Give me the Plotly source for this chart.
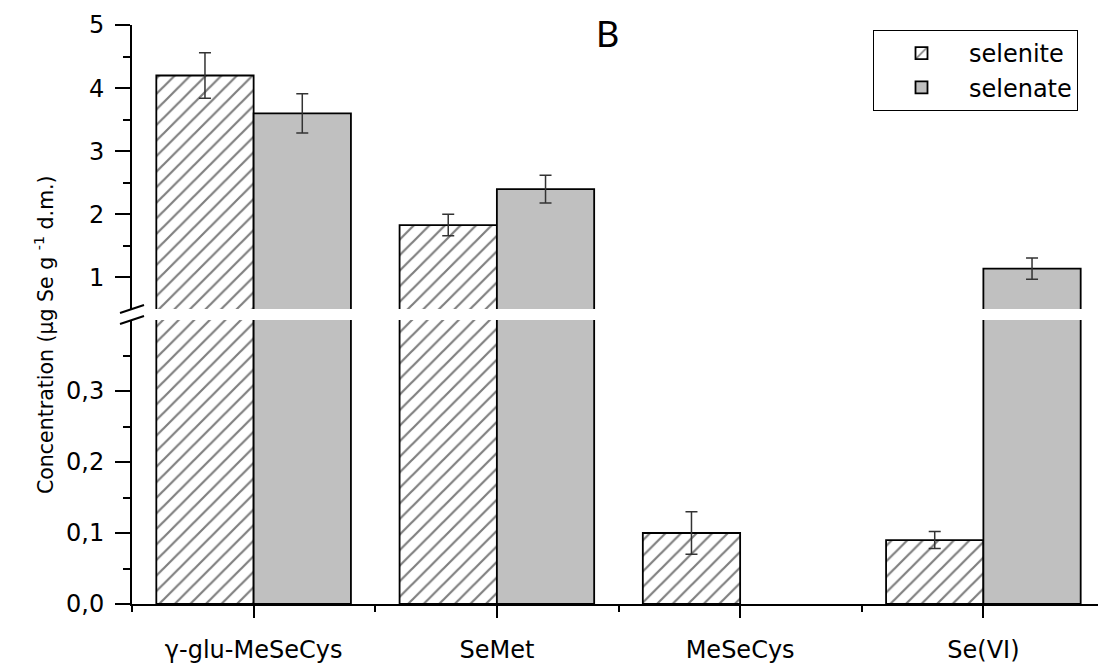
import plotly.graph_objects as go

# ---- data ----
categories = ["γ-glu-MeSeCys", "SeMet", "MeSeCys", "Se(VI)"]
series_names = ["selenite", "selenate"]
selenite = [4.20, 1.83, 0.100, 0.090]
selenite_err = [0.36, 0.17, 0.030, 0.012]
selenate = [3.60, 2.40, None, 1.14]
selenate_err = [0.31, 0.22, None, 0.17]

x_pos = list(range(len(categories)))

# ---- layout geometry (page pixels; the html body has an 8px margin) ----
OFF = 8
W, H = 1106 - OFF, 665 - OFF
PX0, PX1, PY0, PY1 = 132, 1105, 25, 604      # plot area in page pixels
ML, MR = PX0 - OFF, W - (PX1 - OFF)
MT, MB = PY0 - OFF, H - (PY1 - OFF)
PW, PH = PX1 - PX0, PY1 - PY0
GAP = 11
half = (PH - GAP) / 2
low_dom = [0, half / PH]
up_dom = [(half + GAP) / PH, 1]

def pxx(px):
    return (px - PX0) / PW

def pxy(py):
    return (PY1 - py) / PH

FONT = "DejaVu Sans"

hatch = dict(color="white", line=dict(color="black", width=1.8),
             pattern=dict(shape="/", fgcolor="black", bgcolor="white", size=11, solidity=0.2))
grey = dict(color="#c0c0c0", line=dict(color="black", width=1.8))
err_style = dict(type="data", color="#333333", thickness=1.5, width=6)

fig = go.Figure()
for yax, show in (("y2", True), ("y", False)):
    xax = "x2" if yax == "y2" else "x"
    fig.add_trace(go.Bar(x=x_pos, y=selenite, name=series_names[0], marker=hatch,
                         error_y=dict(array=selenite_err, **err_style),
                         xaxis=xax, yaxis=yax, offsetgroup="a", legendgroup="a", showlegend=show))
    fig.add_trace(go.Bar(x=x_pos, y=selenate, name=series_names[1], marker=grey,
                         error_y=dict(array=selenate_err, **err_style),
                         xaxis=xax, yaxis=yax, offsetgroup="b", legendgroup="b", showlegend=show))

axis_common = dict(showgrid=False, zeroline=False, showline=True, linecolor="black", linewidth=2,
                   ticks="outside", tickcolor="black", tickwidth=2,
                   tickfont=dict(family=FONT, size=24, color="black"))

fig.update_layout(
    width=W, height=H,
    margin=dict(l=ML, r=MR, t=MT, b=MB, autoexpand=False),
    paper_bgcolor="white", plot_bgcolor="white",
    separators=",.",
    barmode="group", bargap=0.2, bargroupgap=0,
    font=dict(family=FONT, color="black"),
    xaxis=dict(**axis_common,
               range=[-0.5, 3.5], anchor="y", domain=[0, 1],
               tickmode="array", tickvals=x_pos, ticktext=categories, ticklen=12,
               ticklabelstandoff=11,
               minor=dict(tickmode="array", tickvals=[-0.5, 0.5, 1.5, 2.5, 3.5],
                          ticks="outside", ticklen=6, tickwidth=2, tickcolor="black")),
    xaxis2=dict(matches="x", anchor="y2", visible=False, range=[-0.5, 3.5], domain=[0, 1]),
    yaxis=dict(**axis_common, domain=low_dom, range=[0, 0.4], anchor="x",
               tickmode="array", tickvals=[0, 0.1, 0.2, 0.3], tickformat=".1f", ticklen=15,
               ticklabelstandoff=6,
               minor=dict(tickmode="array", tickvals=[0.05, 0.15, 0.25, 0.35],
                          ticks="outside", ticklen=7, tickwidth=2, tickcolor="black")),
    yaxis2=dict(**axis_common, domain=up_dom, range=[0.5, 5], anchor="x2",
                tickmode="array", tickvals=[1, 2, 3, 4, 5], ticklen=15,
                ticklabelstandoff=6,
                minor=dict(tickmode="array", tickvals=[1.5, 2.5, 3.5, 4.5],
                           ticks="outside", ticklen=7, tickwidth=2, tickcolor="black")),
    legend=dict(x=pxx(1078), y=pxy(30), xanchor="right", yanchor="top",
                bgcolor="white", bordercolor="black", borderwidth=1,
                itemwidth=85, tracegroupgap=0,
                font=dict(family=FONT, size=24, color="black")),
)

# axis-break marks
dx, dy = 12 / PW, 4 / PH
for yc in (up_dom[0], low_dom[1]):
    fig.add_shape(type="line", xref="paper", yref="paper",
                  x0=-dx, y0=yc - dy, x1=dx, y1=yc + dy,
                  line=dict(color="black", width=2))

# y-axis title
fig.add_annotation(text="Concentration (μg Se g <sup>-1</sup> d.m.)", textangle=-90,
                   xref="paper", yref="paper", x=pxx(44), y=pxy(335),
                   xanchor="center", yanchor="middle", showarrow=False,
                   font=dict(family=FONT, size=20.5, color="black"))
# panel letter
fig.add_annotation(text="B", xref="paper", yref="paper", x=pxx(607), y=pxy(33),
                   xanchor="center", yanchor="middle", showarrow=False,
                   font=dict(family="Lato", size=36, color="black"))

fig.write_html("out.html")
